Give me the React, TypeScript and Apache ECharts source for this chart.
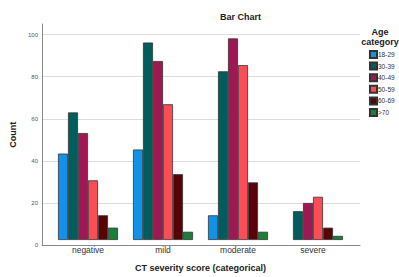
import React, { useEffect, useRef } from "react";
import * as echarts from "echarts";

const categories = ["negative", "mild", "moderate", "severe"];
const ageGroups = ["18-29", "30-39", "40-49", "50-59", "60-69", ">70"];
const colors = ["#1192e8", "#005d5d", "#9f1853", "#fa4d56", "#570408", "#198038"];
const v18_29: (number | string)[] = [42, 44, 12, "-"];
const v30_39 = [62, 96, 82, 14];
const v40_49 = [52, 87, 98, 18];
const v50_59 = [29, 66, 85, 21];
const v60_69 = [12, 32, 28, 6];
const v70 = [6, 4, 4, 2];
const seriesValues = [v18_29, v30_39, v40_49, v50_59, v60_69, v70];
const yTicks = { min: 0, max: 105, interval: 20 };

const FONT = "'Liberation Sans', Arial, sans-serif";

export default function App() {
  const ref = useRef<HTMLDivElement>(null);
  useEffect(() => {
    if (!ref.current) return;
    const chart = echarts.init(ref.current, undefined, { renderer: "svg" });
    const option: any = {
      animation: false,
      backgroundColor: "#ffffff",
      textStyle: { fontFamily: FONT },
      title: {
        text: "Bar Chart",
        left: 220,
        top: 12,
        padding: 0,
        textStyle: { fontSize: 9, fontWeight: "bold", color: "#222", fontFamily: FONT },
      },
      graphic: [
        {
          type: "text",
          x: 380,
          y: 27,
          style: {
            text: "Age\ncategory",
            fontSize: 9,
            fontWeight: "bold",
            fontFamily: FONT,
            fill: "#222",
            align: "center",
            verticalAlign: "top",
            lineHeight: 10,
          },
        },
      ],
      legend: {
        orient: "vertical",
        left: 369,
        top: 50,
        padding: 0,
        itemWidth: 7,
        itemHeight: 7,
        itemGap: 2.6,
        icon: "rect",
        data: ageGroups,
        textStyle: { fontSize: 6.5, color: "#333", lineHeight: 7, fontFamily: FONT, padding: [0, 0, 0, -4] },
      },
      grid: [
        { left: 42, top: 24, width: 318, height: 221.3 },
        { left: 50.5, top: 24, width: 300, height: 221.3 },
      ],
      xAxis: [
        {
          type: "value",
          gridIndex: 0,
          min: 0,
          max: 1,
          axisLine: { show: true, lineStyle: { color: "#888", width: 1 } },
          axisTick: { show: false },
          axisLabel: { show: false },
          splitLine: { show: false },
        },
        {
          type: "category",
          gridIndex: 1,
          data: categories,
          axisLine: { show: false },
          axisTick: { show: false },
          axisLabel: { fontSize: 8.5, color: "#333", margin: 5, fontFamily: FONT },
          name: "CT severity score (categorical)",
          nameLocation: "middle",
          nameGap: 23,
          nameTextStyle: { fontSize: 9, fontWeight: "bold", color: "#222", fontFamily: FONT },
        },
      ],
      yAxis: [
        {
          type: "value",
          gridIndex: 0,
          min: yTicks.min,
          max: yTicks.max,
          interval: yTicks.interval,
          axisLine: { show: true, lineStyle: { color: "#888", width: 1 } },
          axisTick: { show: false },
          axisLabel: { fontSize: 6, color: "#555", margin: 4, showMaxLabel: false, fontFamily: FONT },
          splitLine: { show: true, showMaxLine: false, showMinLine: false, lineStyle: { color: "#dcdcdc", width: 1 } },
          name: "Count",
          nameLocation: "middle",
          nameGap: 18,
          nameRotate: 90,
          nameTextStyle: { fontSize: 9, fontWeight: "bold", color: "#222", fontFamily: FONT },
        },
        {
          type: "value",
          gridIndex: 1,
          min: yTicks.min,
          max: yTicks.max,
          interval: yTicks.interval,
          show: false,
          splitLine: { show: false },
        },
      ],
      series: ageGroups.map((name, i) => ({
        name,
        type: "bar",
        xAxisIndex: 1,
        yAxisIndex: 1,
        data: seriesValues[i],
        barGap: 0,
        barCategoryGap: "20%",
        itemStyle: { color: colors[i], borderColor: "#333", borderWidth: 0.8 },
      })),
    };
    chart.setOption(option);
    return () => chart.dispose();
  }, []);
  return (
    <div
      ref={ref}
      style={{ position: "fixed", left: 0, top: 0, width: 399, height: 277, background: "#fff" }}
    />
  );
}
